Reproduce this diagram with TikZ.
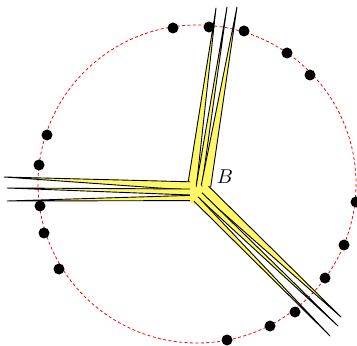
\documentclass[tikz,border=0pt]{standalone}
\usetikzlibrary{calc}
\tikzset{
  strand/.style={fill=yellow!60, draw=black, line width=0.45pt, line join=round},
  ring/.style={red, dash pattern=on 1.5pt off 1.2pt, line width=0.4pt},
  site/.style={fill=black}
}
% a tapered strand: base, tip, half width at the base
\newcommand{\strandline}[3]{%
  \filldraw[strand] ($(#1)!#3!90:(#2)$) -- (#2) -- ($(#1)!#3!-90:(#2)$);
}
\begin{document}
\begin{tikzpicture}[x=0.5pt,y=-0.5pt]
    \useasboundingbox (0,0) rectangle (357,346);
    \coordinate (O) at (197,184);
    \draw[ring] (O) circle[radius=159];
    \foreach \p in {(173,28),(209,27),(244,31),(287,53),(310,75),(356,202),
                    (344,245),(325,278),(295,312),(270,326),(227,340),
                    (59,269),(44,233),(40,206),(39,165),(47,135)}
        \fill[site] \p circle[radius=5.5];
    % junction
    \fill[yellow!60] (188,183) -- (209,183) -- (213,191) -- (194,205) -- (188,201) -- cycle;
    % upper bundle
    \coordinate (u1) at (216,8);   \coordinate (bu1) at (192,186);
    \coordinate (u2) at (227,7);   \coordinate (bu2) at (199,186);
    \coordinate (u3) at (237,7);   \coordinate (bu3) at (206,186);
    % left bundle
    \coordinate (l1) at (4,177);   \coordinate (bl1) at (190,186);
    \coordinate (l2) at (7,188);   \coordinate (bl2) at (190,192);
    \coordinate (l3) at (7,201);   \coordinate (bl3) at (190,198);
    % lower right bundle
    \coordinate (r1) at (341,317); \coordinate (br1) at (205,190);
    \coordinate (r2) at (338,326); \coordinate (br2) at (200,195);
    \coordinate (r3) at (330,336); \coordinate (br3) at (196,199);
    \strandline{bu1}{u1}{2.2pt}
    \strandline{bu2}{u2}{1.4pt}
    \strandline{bu3}{u3}{2.4pt}
    \strandline{bl1}{l1}{2.1pt}
    \strandline{bl2}{l2}{1.5pt}
    \strandline{bl3}{l3}{1.3pt}
    \strandline{br1}{r1}{2.6pt}
    \strandline{br2}{r2}{1.5pt}
    \strandline{br3}{r3}{1.5pt}
    \node (B) at (225,177) {$B$};
\end{tikzpicture}
\end{document}
